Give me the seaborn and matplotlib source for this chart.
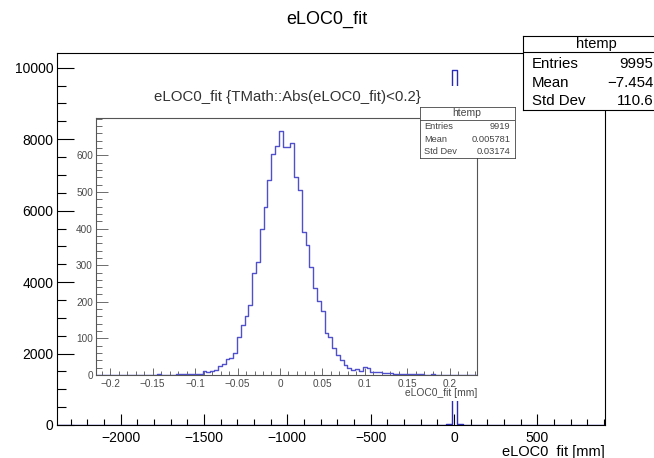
import numpy as np
import pandas as pd
import matplotlib
matplotlib.use("Agg")
import matplotlib.pyplot as plt
from matplotlib.ticker import MultipleLocator
import seaborn as sns

# ---------------- data ----------------
outer_title = "eLOC0_fit"
outer_xlabel = "eLOC0_fit [mm]"
outer_range = (-2382.0, 906.0)
outer_nbins = 100
# sparse outer histogram: bin index -> count
outer_bins_idx = [0, 10, 30, 40, 50, 60, 65, 69, 70, 71, 72, 73, 74, 75, 80, 85, 90, 95, 99]
outer_bins_cnt = [1, 1, 1, 1, 1, 1, 2, 3, 5, 20, 9925, 18, 6, 4, 2, 1, 1, 1, 1]
outer_stats = [("Entries", "9995"), ("Mean", "\u22127.454"), ("Std Dev", "110.6")]
outer_xticks = [-2000, -1500, -1000, -500, 0, 500]
outer_xticklabels = ["\u22122000", "\u22121500", "\u22121000", "\u2212500", "0", "500"]
outer_yticks = [0, 2000, 4000, 6000, 8000, 10000]
outer_yticklabels = ["0", "2000", "4000", "6000", "8000", "10000"]

inset_title = "eLOC0_fit {TMath::Abs(eLOC0_fit)<0.2}"
inset_xlabel = "eLOC0_fit [mm]"
inset_range = (-0.2165, 0.2318)
inset_counts = [
    0, 0, 0, 0, 0, 0, 0, 0, 0, 0,
    0, 0, 0, 0, 0, 1, 2, 1, 1, 1,
    1, 2, 2, 3, 2, 3, 4, 3, 12, 7,
    12, 15, 25, 30, 43, 47, 61, 103, 136, 161,
    191, 279, 309, 400, 459, 534, 603, 625, 668, 623,
    623, 635, 541, 505, 391, 356, 295, 239, 202, 175,
    115, 105, 73, 55, 41, 27, 18, 14, 16, 12,
    21, 18, 8, 7, 7, 6, 5, 5, 4, 4,
    3, 3, 3, 2, 2, 2, 1, 1, 2, 1,
    1, 1, 1, 0, 0, 0, 0, 0, 0, 0,
]
inset_stats = [("Entries", "9919"), ("Mean", "0.005781"), ("Std Dev", "0.03174")]
inset_xticks = [-0.2, -0.15, -0.1, -0.05, 0, 0.05, 0.1, 0.15, 0.2]
inset_xticklabels = ["\u22120.2", "\u22120.15", "\u22120.1", "\u22120.05", "0",
                     "0.05", "0.1", "0.15", "0.2"]
inset_yticks = [0, 100, 200, 300, 400, 500, 600]
inset_yticklabels = ["0", "100", "200", "300", "400", "500", "600"]
stats_name = "htemp"

# ---------------- style ----------------
sns.set_theme(style="white")
plt.rcParams["font.family"] = ["Liberation Sans", "DejaVu Sans"]
plt.rcParams["axes.unicode_minus"] = True

W, H = 654, 458
fig = plt.figure(figsize=(W / 100, H / 100), dpi=100)
fig.patch.set_facecolor("white")


def rect(x0, y0, x1, y1):
    return [x0 / W, 1 - y1 / H, (x1 - x0) / W, (y1 - y0) / H]


# ---------------- outer histogram ----------------
o_edges = np.linspace(outer_range[0], outer_range[1], outer_nbins + 1)
o_centers = 0.5 * (o_edges[:-1] + o_edges[1:])
o_df = pd.DataFrame({"x": o_centers[outer_bins_idx], "w": outer_bins_cnt})

ax = fig.add_axes(rect(57, 52.7, 605, 425), zorder=1)
ax.set_facecolor("white")
sns.histplot(data=o_df, x="x", weights="w", bins=list(o_edges), element="step",
             fill=False, color="#2a2ab8", linewidth=1.0, ax=ax)
ax.set_xlim(*outer_range)
ax.set_ylim(0, 1.05 * max(outer_bins_cnt))
ax.set_xlabel("")
ax.set_ylabel("")
for s in ax.spines.values():
    s.set_visible(True)
    s.set_color("black")
    s.set_linewidth(0.8)
ax.set_xticks(outer_xticks)
ax.set_xticklabels(outer_xticklabels)
ax.set_yticks(outer_yticks)
ax.set_yticklabels(outer_yticklabels)
ax.xaxis.set_minor_locator(MultipleLocator(100))
ax.yaxis.set_minor_locator(MultipleLocator(500))
ax.tick_params(axis="both", which="both", direction="in", top=False, right=False,
               bottom=True, left=True, colors="black", labelsize=10, width=0.8)
ax.tick_params(axis="y", which="major", length=12.2, pad=2.7)
ax.tick_params(axis="y", which="minor", length=6.5)
ax.tick_params(axis="x", which="major", length=8.0, pad=4.3)
ax.tick_params(axis="x", which="minor", length=4.3)

fig.text(327 / W, 1 - 19 / H, outer_title, ha="center", va="center",
         fontsize=13, color="black")
fig.text(605 / W, 1.6 / H, outer_xlabel, ha="right", va="baseline",
         fontsize=10.5, color="black")

# ---------------- inset pad ----------------
pad = fig.add_axes(rect(75, 86, 520, 401), zorder=2)
pad.set_facecolor("white")
pad.set_xticks([])
pad.set_yticks([])
for s in pad.spines.values():
    s.set_visible(False)

gray = "#4a4a4a"
i_edges = np.linspace(inset_range[0], inset_range[1], len(inset_counts) + 1)
i_centers = 0.5 * (i_edges[:-1] + i_edges[1:])
i_df = pd.DataFrame({"x": i_centers, "w": inset_counts})

iax = fig.add_axes(rect(96, 118.3, 477, 375), zorder=3)
iax.set_facecolor("white")
sns.histplot(data=i_df, x="x", weights="w", bins=list(i_edges), element="step",
             fill=False, color="#5050cc", linewidth=1.0, ax=iax)
iax.set_xlim(*inset_range)
iax.set_ylim(0, 1.05 * max(inset_counts))
iax.set_xlabel("")
iax.set_ylabel("")
for s in iax.spines.values():
    s.set_visible(True)
    s.set_color("#555555")
    s.set_linewidth(0.8)
iax.set_xticks(inset_xticks)
iax.set_xticklabels(inset_xticklabels)
iax.set_yticks(inset_yticks)
iax.set_yticklabels(inset_yticklabels)
iax.xaxis.set_minor_locator(MultipleLocator(0.01))
iax.yaxis.set_minor_locator(MultipleLocator(20))
iax.tick_params(axis="both", which="both", direction="in", top=False, right=False,
                bottom=True, left=True, colors="#555555", labelcolor=gray,
                labelsize=7.2, width=0.6)
iax.tick_params(axis="y", which="major", length=8.8, pad=2.2)
iax.tick_params(axis="y", which="minor", length=4.6)
iax.tick_params(axis="x", which="major", length=5.2, pad=3.0)
iax.tick_params(axis="x", which="minor", length=3.0)

fig.text(287 / W, 1 - 97 / H, inset_title, ha="center", va="center",
         fontsize=10.8, color="#333333", zorder=10)
fig.text(477 / W, 1 - 393.3 / H, inset_xlabel, ha="right", va="center",
         fontsize=7.4, color=gray, zorder=10)


# ---------------- stats boxes ----------------
def stats_box(r, rows, sep, ty, tx, row_y, lx, vx, fs_title, fs_row, color, lw, z):
    sa = fig.add_axes(r, zorder=z)
    sa.set_xlim(0, 1)
    sa.set_ylim(0, 1)
    sa.set_facecolor("white")
    sa.set_xticks([])
    sa.set_yticks([])
    for s in sa.spines.values():
        s.set_visible(True)
        s.set_color(color)
        s.set_linewidth(lw)
    sa.axhline(sep, color=color, linewidth=lw)
    sa.text(tx, ty, stats_name, ha="center", va="center", fontsize=fs_title, color=color)
    for (lab, val), yy in zip(rows, row_y):
        sa.text(lx, yy, lab, ha="left", va="center", fontsize=fs_row, color=color)
        sa.text(vx, yy, val, ha="right", va="center", fontsize=fs_row, color=color)
    return sa


stats_box(rect(420, 106.7, 515, 158.3), inset_stats, 0.742, 0.872, 0.49,
          [0.612, 0.368, 0.128], 0.045, 0.953, 7.5, 6.7, "#444444", 0.6, 4)

stats_box(rect(523, 36, 670, 110), outer_stats, 0.788, 0.892, 0.5,
          [0.618, 0.361, 0.122], 0.06, (653.5 - 523) / 147, 10.5, 10.8, "black", 0.8, 5)

fig.savefig("out.png", dpi=100, facecolor="white")
